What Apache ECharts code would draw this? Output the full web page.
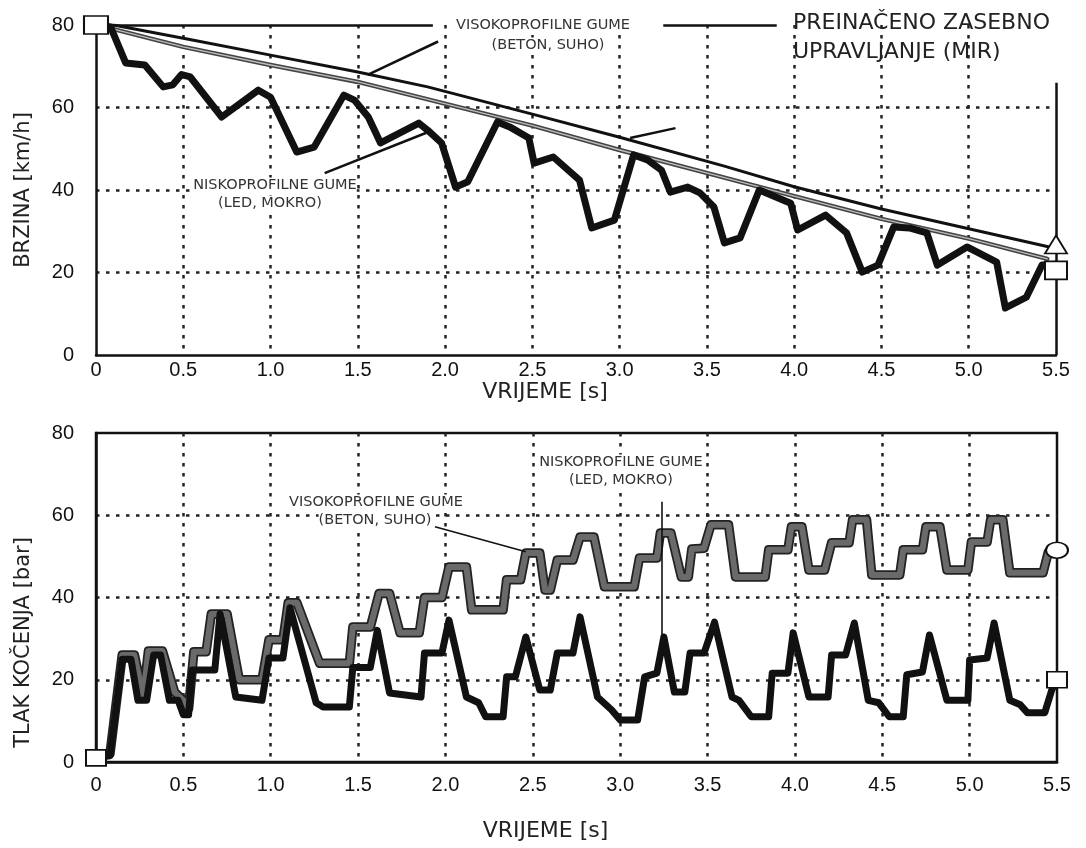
<!DOCTYPE html>
<html>
<head>
<meta charset="utf-8">
<script src="https://cdn.jsdelivr.net/npm/echarts@6/dist/echarts.min.js"></script>
<style>
html, body { margin: 0; padding: 0; background: #fff; }
#container { width: 1086px; height: 848px; }
</style>
</head>
<body>
<div id="container"></div>
<script>
// brzina [km/h] - visokoprofilne gume (beton, suho), ravna crna linija
var speedBeton = [[0, 80], [0.1, 80], [0.5, 76.8], [1.0, 72.7], [1.5, 68.6], [1.9, 65], [2.5, 58.4],
    [3.0, 52.8], [3.6, 45.8], [4.0, 40.8], [4.5, 35.4], [5.0, 30.6], [5.5, 25.8]];
// brzina - preinaceno zasebno upravljanje (MIR), siva linija
var speedMir = [[0, 80], [0.1, 79], [0.5, 74.7], [1.0, 70.3], [1.5, 66.2], [1.85, 62.5], [2.5, 55.6],
    [3.0, 49.7], [3.6, 43], [4.0, 38.5], [4.5, 33], [5.0, 28.2], [5.45, 23.3]];
// brzina - niskoprofilne gume (led, mokro)
var speedLed = [[0, 80], [0.084, 79.5], [0.17, 70.8], [0.28, 70.3], [0.385, 65], [0.44, 65.5], [0.49, 68],
    [0.54, 67.4], [0.72, 57.7], [0.93, 64.2], [1.0, 62.5], [1.15, 49.2], [1.25, 50.4], [1.42, 63], [1.48, 61.8],
    [1.56, 57.7], [1.63, 51.4], [1.85, 56.2], [1.9, 54.5], [1.98, 51.4], [2.06, 40.7], [2.13, 42], [2.3, 56.5],
    [2.37, 55.3], [2.48, 52.6], [2.51, 46.5], [2.62, 48], [2.77, 42.4], [2.84, 30.8], [2.97, 32.7], [3.08, 48.5],
    [3.16, 47.3], [3.24, 44.8], [3.29, 39.5], [3.39, 40.7], [3.46, 39.3], [3.54, 35.9], [3.6, 27.2], [3.69, 28.4],
    [3.8, 40], [3.98, 36.8], [4.02, 30.3], [4.18, 33.9], [4.3, 29.6], [4.39, 20.1], [4.48, 21.8], [4.57, 31],
    [4.66, 30.8], [4.76, 29.6], [4.82, 21.8], [4.99, 26.2], [5.16, 22.5], [5.21, 11.4], [5.33, 14], [5.42, 21.8],
    [5.5, 22]];

// tlak kocenja [bar] - visokoprofilne gume (beton, suho)
var pressureBeton = [[0, 1.5], [0.08, 2], [0.15, 26], [0.22, 26], [0.27, 16], [0.3, 27], [0.38, 27], [0.45, 17],
    [0.5, 15], [0.53, 13], [0.56, 26.8], [0.63, 26.8], [0.66, 36], [0.75, 36], [0.82, 20], [0.95, 20], [0.99, 29.7],
    [1.07, 29.7], [1.1, 38.7], [1.15, 38.7], [1.28, 24], [1.45, 24], [1.47, 32.8], [1.57, 32.8], [1.62, 41],
    [1.68, 41], [1.74, 31.4], [1.85, 31.4], [1.88, 40], [1.98, 40], [2.02, 47.4], [2.12, 47.4], [2.15, 37],
    [2.33, 37], [2.35, 44.3], [2.43, 44.3], [2.46, 50.8], [2.54, 50.8], [2.57, 41.8], [2.6, 41.8], [2.64, 49.1],
    [2.73, 49.1], [2.77, 54.7], [2.85, 54.7], [2.91, 42.6], [3.08, 42.6], [3.11, 49.6], [3.21, 49.6], [3.23, 55.7],
    [3.29, 55.7], [3.35, 45], [3.39, 45], [3.41, 51.8], [3.48, 52], [3.52, 57.7], [3.62, 57.7], [3.66, 45],
    [3.83, 45], [3.85, 51.6], [3.96, 51.6], [3.98, 57.2], [4.04, 57.2], [4.08, 46.7], [4.17, 46.7], [4.21, 53.3],
    [4.31, 53.3], [4.33, 58.9], [4.41, 58.9], [4.44, 45.5], [4.6, 45.5], [4.62, 51.6], [4.73, 51.6], [4.75, 57.2],
    [4.83, 57.2], [4.87, 46.7], [4.99, 46.7], [5.01, 53.5], [5.1, 53.5], [5.12, 58.9], [5.19, 58.9], [5.23, 46],
    [5.42, 46], [5.45, 51], [5.5, 51.3]];
// tlak kocenja - niskoprofilne gume (led, mokro)
var pressureLed = [[0, 1], [0.08, 1.5], [0.15, 25], [0.2, 25], [0.24, 15], [0.29, 15], [0.33, 26], [0.37, 26],
    [0.42, 15], [0.47, 15], [0.5, 11.5], [0.53, 11.5], [0.55, 22.4], [0.68, 22.4], [0.71, 36], [0.8, 15.8],
    [0.95, 15], [0.99, 25.3], [1.07, 25.3], [1.11, 37.5], [1.26, 14.4], [1.3, 13.4], [1.45, 13.4], [1.47, 23],
    [1.57, 23], [1.61, 32], [1.68, 16.8], [1.86, 15.8], [1.88, 26.5], [1.98, 26.5], [2.02, 34.5], [2.12, 15.8],
    [2.19, 14.4], [2.23, 11], [2.33, 11], [2.35, 20.7], [2.4, 20.7], [2.46, 30.4], [2.54, 17.5], [2.6, 17.5],
    [2.64, 26.5], [2.73, 26.5], [2.77, 35.3], [2.87, 15.8], [2.95, 12.7], [3.0, 10.2], [3.1, 10.2], [3.14, 20.7],
    [3.21, 21.6], [3.25, 30.4], [3.31, 17], [3.37, 17], [3.4, 26.5], [3.48, 26.5], [3.54, 34], [3.64, 15.8],
    [3.68, 15], [3.75, 11], [3.85, 11], [3.87, 21.6], [3.96, 21.6], [3.99, 31.4], [4.08, 15.8], [4.19, 15.8],
    [4.21, 26], [4.29, 26], [4.34, 33.8], [4.42, 15], [4.48, 14.4], [4.54, 11], [4.62, 11], [4.64, 21.2],
    [4.73, 21.9], [4.77, 30.9], [4.87, 15], [4.99, 15], [5.0, 24.8], [5.1, 25.3], [5.14, 33.8], [5.23, 15],
    [5.29, 13.9], [5.33, 12], [5.43, 12], [5.47, 17.5], [5.5, 20]];

// oznake na pocetku i kraju krivulja
var speedStart = [[0, 80]];
var speedEndTriangle = [[5.5, 26.8]];
var speedEndSquare = [[5.5, 20.5]];
var pressureStart = [[0, 1]];
var pressureEndEllipse = [[5.5, 51.5]];
var pressureEndSquare = [[5.5, 20]];

var timeTicks = [0, 0.5, 1.0, 1.5, 2.0, 2.5, 3.0, 3.5, 4.0, 4.5, 5.0, 5.5];

var ink = "#111";
var dotted = { type: [3.5, 6.5], color: "#222", width: 2.5 };

function timeAxis(gridIndex, margin, nameGap) {
    return {
        type: "value",
        gridIndex: gridIndex,
        min: timeTicks[0],
        max: timeTicks[timeTicks.length - 1],
        interval: 0.5,
        axisLine: { show: true, onZero: false, lineStyle: { color: ink, width: 2.5 } },
        axisTick: { show: false },
        axisLabel: {
            margin: margin,
            fontSize: 20,
            color: ink,
            fontFamily: "Liberation Sans",
            formatter: function(v) { return v === 0 ? "0" : v.toFixed(1); },
        },
        splitLine: { show: true, showMinLine: false, showMaxLine: false, lineStyle: dotted },
        name: "VRIJEME [s]",
        nameLocation: "middle",
        nameGap: nameGap,
        nameTextStyle: { fontSize: 22, color: "#222", fontFamily: "DejaVu Sans", padding: [0, 62, 0, 0] },
    };
}

function valueAxis(gridIndex, name, namePad) {
    return {
        type: "value",
        gridIndex: gridIndex,
        min: 0,
        max: 80,
        interval: 20,
        axisLine: { show: true, lineStyle: { color: ink, width: 2.5 } },
        axisTick: { show: false },
        axisLabel: { margin: 22, fontSize: 20, color: ink, fontFamily: "Liberation Sans" },
        splitLine: { show: true, showMinLine: false, showMaxLine: false, lineStyle: dotted },
        name: name,
        nameLocation: "middle",
        nameGap: 62,
        nameTextStyle: { fontSize: 21, color: "#222", fontFamily: "DejaVu Sans", padding: namePad },
    };
}

function seg(x1, y1, x2, y2) {
    return [{ coord: [x1, y1] }, { coord: [x2, y2] }];
}

function curve(name, data, xi, color, width, z) {
    return {
        type: "line",
        name: name,
        xAxisIndex: xi,
        yAxisIndex: xi,
        data: data,
        symbol: "none",
        z: z,
        lineStyle: { color: color, width: width, join: "round", cap: "round" },
        silent: true,
    };
}

function marker(data, xi, symbol, size) {
    return {
        type: "scatter",
        xAxisIndex: xi,
        yAxisIndex: xi,
        data: data,
        symbol: symbol,
        symbolSize: size,
        z: 20,
        itemStyle: { color: "#fff", opacity: 1, borderColor: ink, borderWidth: 1.8 },
        silent: true,
    };
}

function note(text, x, y, size) {
    return {
        type: "text",
        x: x,
        y: y,
        z: 30,
        style: {
            text: text,
            align: "center",
            verticalAlign: "middle",
            fontSize: size,
            fontFamily: "DejaVu Sans",
            fill: "#333",
            backgroundColor: "#fff",
        },
    };
}

var myChart = echarts.init(document.getElementById("container"));

var frameTop = curve("okvir", speedBeton, 0, ink, 3, 5);
frameTop.markLine = {
    silent: true,
    symbol: ["none", "none"],
    label: { show: false },
    lineStyle: { color: ink, width: 2.5, type: "solid" },
    data: [
        seg(0, 80, 1.93, 80), // gornji rub, prekinut natpisom
        seg(3.25, 80, 3.9, 80),
        seg(5.5, 0, 5.5, 66), // desni rub
        seg(1.96, 76, 1.556, 67.9), // pokazivaci natpisa
        seg(1.31, 44.1, 1.9, 54),
        seg(3.06, 52.6, 3.32, 55),
    ],
};

var leaderBottom = curve("tlak", pressureLed, 1, ink, 7, 5);
leaderBottom.markLine = {
    silent: true,
    symbol: ["none", "none"],
    label: { show: false },
    lineStyle: { color: ink, width: 1.6, type: "solid" },
    data: [
        seg(1.94, 57.2, 2.46, 51.1),
        seg(3.24, 63.3, 3.24, 30.4),
    ],
};

myChart.setOption({
    backgroundColor: "#fff",
    animation: false,
    grid: [
        { left: 96, right: 30, top: 25, height: 330 },
        { left: 96, right: 29, top: 433, height: 329, show: true, borderColor: ink, borderWidth: 2.5 },
    ],
    xAxis: [timeAxis(0, 5, 16), timeAxis(1, 13, 58)],
    yAxis: [valueAxis(0, "BRZINA [km/h]", [0, 0, 0, 0]), valueAxis(1, "TLAK KOČENJA [bar]", [0, 90, 0, 0])],
    series: [
        curve("mir", speedMir, 0, "#444", 4.5, 3),
        curve("mir2", speedMir, 0, "#bdbdbd", 1.4, 4),
        frameTop,
        curve("led", speedLed, 0, ink, 7, 6),
        marker(speedStart, 0, "rect", [24, 18]),
        marker(speedEndTriangle, 0, "triangle", [22, 18]),
        marker(speedEndSquare, 0, "rect", [22, 18]),

        curve("beton", pressureBeton, 1, "#222", 9.5, 3),
        curve("beton2", pressureBeton, 1, "#6a6a6a", 6, 4),
        leaderBottom,
        marker(pressureStart, 1, "rect", [20, 16]),
        marker(pressureEndEllipse, 1, "circle", [22, 16]),
        marker(pressureEndSquare, 1, "rect", [20, 16]),
    ],
    graphic: [
        note("VISOKOPROFILNE GUME", 543, 25, 14.5),
        note("(BETON, SUHO)", 548, 45, 14.5),
        {
            type: "text",
            x: 793,
            y: 23,
            style: { text: "PREINAČENO ZASEBNO", align: "left", verticalAlign: "middle", fontSize: 22, fontFamily: "DejaVu Sans", fill: "#222", backgroundColor: "#fff" },
        },
        {
            type: "text",
            x: 793,
            y: 52,
            style: { text: "UPRAVLJANJE (MIR)", align: "left", verticalAlign: "middle", fontSize: 22, fontFamily: "DejaVu Sans", fill: "#222", backgroundColor: "#fff" },
        },
        note("NISKOPROFILNE GUME", 275, 185, 14.5),
        note("(LED, MOKRO)", 270, 203, 14.5),
        note("VISOKOPROFILNE GUME", 376, 502, 14.5),
        note("(BETON, SUHO)", 375, 520, 14.5),
        note("NISKOPROFILNE GUME", 621, 462, 14.5),
        note("(LED, MOKRO)", 621, 480, 14.5),
    ],
});
</script>
</body>
</html>
